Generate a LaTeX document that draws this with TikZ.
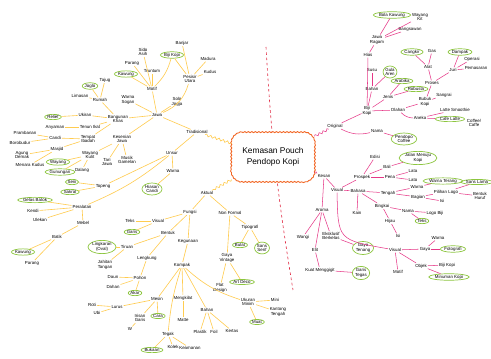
\documentclass[tikz,border=0pt]{standalone}
\usepackage{fontspec}
\setmainfont{Liberation Sans}
\usetikzlibrary{shapes.geometric,decorations.pathmorphing}
\definecolor{lime}{RGB}{141,198,63}
\definecolor{mustard}{RGB}{255,204,80}
\definecolor{rose}{RGB}{230,55,135}
\definecolor{rust}{RGB}{242,101,34}
\definecolor{divred}{RGB}{225,45,70}

\begin{document}
\begin{tikzpicture}[x=0.04cm,y=-0.04cm,
    txt/.style={font=\fontsize{5}{5.4}\selectfont,align=center,inner sep=1pt},
    oval/.style={txt,draw=lime,line width=0.8pt,ellipse,inner sep=0.3pt},
    yl/.style={draw=mustard,line width=0.7pt},
    pk/.style={draw=rose,line width=0.6pt},
    wave/.style={decorate,decoration={snake,amplitude=1.3pt,segment length=5pt}}]
  \fill[white] (0,0) rectangle (491,359);
  \useasboundingbox (0,0) rectangle (491,359);

  % divider
  \coordinate (dtop) at (266,47);
  \coordinate (dbot) at (293,290);
  \draw[divred,dashed,line width=0.7pt] (dtop) to[bend right=3] (dbot);

  % centre
  \node[minimum width=3.3cm,minimum height=1.95cm] (c) at (273,157) {};
  \begin{scope}[x=1cm,y=1cm]
    \filldraw[fill=white,draw=rust,line width=1pt,decorate,decoration={bumps,segment length=8pt,amplitude=1.2pt}]
      (9.72,-5.305) -- (12.12,-5.305) arc[start angle=90,end angle=0,radius=0.45]
      -- (12.57,-6.805) arc[start angle=0,end angle=-90,radius=0.45]
      -- (9.72,-7.255) arc[start angle=-90,end angle=-180,radius=0.45]
      -- (9.27,-5.755) arc[start angle=180,end angle=90,radius=0.45] -- cycle;
  \end{scope}
  \node[font=\fontsize{9.5}{12.5}\selectfont,align=center] (ctext) at (c) {Kemasan Pouch\\Pendopo Kopi};

  % tradisional
  \node[txt] (trad) at (197,132) {Tradisional};
  \node[txt] (jawa) at (157,115) {Jawa};
  \node[txt] (motif) at (152,89) {Motif};
  \node[oval] (kawa) at (126,74) {Kawung};
  \node[txt] (parang) at (132,63) {Parang};
  \node[txt] (trun) at (152,71) {Truntum};
  \node[txt] (sido) at (143,52) {Sido\\Asih};
  \node[oval] (bkopi) at (172,55) {Biji Kopi};
  \node[txt] (banjar) at (182,43) {Banjar};
  \node[txt] (madura) at (208,59) {Madura};
  \node[txt] (kudus) at (210,72) {Kudus};
  \node[txt] (pesisir) at (190,79) {Pesisir\\Utara};
  \node[txt] (solo) at (177,102) {Solo\\Jogja};
  \node[txt] (sogan) at (128,100) {Warna\\Sogan};
  \node[txt] (bangun) at (118,119) {Bangunan\\Khas};
  \node[txt] (rumah) at (100,100) {Rumah};
  \node[txt] (tajug) at (105,80) {Tajug};
  \node[oval] (joglo) at (90,86) {Joglo};
  \node[txt] (limas) at (80,96) {Limasan};
  \node[txt] (ukir) at (85,115) {Ukiran};
  \node[oval] (relief) at (53,117) {Relief};
  \node[txt] (tenun) at (90,127) {Tenun Ikat};
  \node[txt] (anyam) at (55,127) {Anyaman};
  \node[txt] (ibadah) at (88,139) {Tempat\\Ibadah};
  \node[txt] (candi) at (55,138) {Candi};
  \node[txt] (pramb) at (25,133) {Prambanan};
  \node[txt] (borob) at (20,143) {Borobudur};
  \node[txt] (masjid) at (57,149) {Masjid};
  \node[txt] (demak) at (22,155) {Agung\\Demak};
  \node[txt] (menara) at (30,165) {Menara Kudus};
  \node[txt] (seni) at (122,139) {Kesenian\\Jawa};
  \node[txt] (wkulit) at (90,155) {Wayang\\Kulit};
  \node[oval] (wayang) at (58,162) {Wayang};
  \node[oval] (gunung) at (60,172) {Gunungan};
  \node[txt] (dalang) at (82,170) {Dalang};
  \node[txt] (tari) at (107,162) {Tari\\Jawa};
  \node[txt] (gamelan) at (127,160) {Musik\\Gamelan};
  \node[txt] (unsur) at (172,153) {Unsur};
  \node[txt] (warna) at (173,171) {Warna};
  \node[oval] (hiasan) at (152,189) {Hiasan\\Candi};
  \node[txt] (topeng) at (103,186) {Topeng};
  \node[oval] (senii) at (72,182) {Seni};
  \node[oval] (sakral) at (70,192) {Sakral};
  \node[txt] (alat) at (82,207) {Peralatan};
  \node[oval] (batok) at (35,200) {Gelas Batok};
  \node[txt] (kendi) at (33,211) {Kendi};
  \node[txt] (ulek) at (40,220) {Ulekan};
  \node[txt] (mebel) at (83,223) {Mebel};
  \node[txt] (batik) at (57,237) {Batik};
  \node[oval] (kawb) at (23,252) {Kawung};
  \node[txt] (parb) at (32,263) {Parang};

  % aktual
  \node[txt] (aktual) at (207,193) {Aktual};
  \node[txt] (fungsi) at (190,212) {Fungsi};
  \node[txt] (nonf) at (230,213) {Non Formal};
  \node[txt] (tipo) at (250,227) {Tipografi};
  \node[oval] (bulat) at (240,245) {Bulat};
  \node[oval] (sans) at (262,248) {Sans\\Serif};
  \node[txt] (vint) at (227,258) {Gaya\\Vintage};
  \node[oval] (deco) at (242,282) {Art Deco};
  \node[txt] (flat) at (220,288) {Flat\\Design};
  \node[txt] (vis) at (158,221) {Visual};
  \node[txt] (teks) at (130,221) {Teks};
  \node[oval] (garis) at (132,232) {Garis};
  \node[txt] (bentuk) at (168,233) {Bentuk};
  \node[txt] (guna) at (188,241) {Kegunaan};
  \node[txt] (tiru) at (127,247) {Tiruan};
  \node[oval] (lingk) at (102,247) {Lingkaran\\(Oval)};
  \node[txt] (lengk) at (147,258) {Lengkung};
  \node[txt] (jahit) at (105,265) {Jahitan\\Tangan};
  \node[txt] (kompak) at (182,265) {Kompak};
  \node[txt] (pohon) at (140,278) {Pohon};
  \node[txt] (daun) at (113,277) {Daun};
  \node[txt] (dahan) at (113,287) {Dahan};
  \node[oval] (akar) at (135,293) {Akar};
  \node[txt] (mesin) at (157,299) {Mesin};
  \node[txt] (kilat) at (183,298) {Mengkilat};
  \node[txt] (matte) at (183,320) {Matte};
  \node[txt] (roti) at (92,305) {Roti};
  \node[txt] (ubi) at (97,313) {Ubi};
  \node[txt] (lurus) at (117,307) {Lurus};
  \node[txt] (irisan) at (140,318) {Irisan\\Garis};
  \node[oval] (cara) at (158,316) {Cara};
  \node[txt] (w) at (130,329) {W};
  \node[txt] (tegak) at (168,334) {Tegak};
  \node[oval] (bukaan) at (152,350) {Bukaan};
  \node[txt] (kolek) at (173,347) {Kolek};
  \node[txt] (aman) at (190,348) {Keamanan};
  \node[txt] (bahan) at (207,310) {Bahan};
  \node[txt] (plastik) at (200,332) {Plastik};
  \node[txt] (foil) at (214,332) {Foil};
  \node[txt] (kertas) at (232,331) {Kertas};
  \node[txt] (ukuran) at (248,302) {Ukuran\\Minim};
  \node[txt] (mini) at (275,300) {Mini};
  \node[txt] (kantong) at (278,312) {Kantong\\Tengah};
  \node[oval] (muat) at (257,322) {Muat};

  % original
  \node[txt] (orig) at (335,126) {Original};
  \node[txt] (biji) at (367,111) {Biji\\Kopi};
  \node[txt] (nama) at (377,131) {Nama};
  \node[oval] (pendopo) at (404,139) {Pendopo\\Coffee};
  \node[txt] (hias) at (368,55) {Hias};
  \node[txt] (ragam) at (377,40) {Jawa\\Ragam};
  \node[oval] (bola) at (392,15) {Bola Kawung};
  \node[txt] (wayk) at (420,17) {Wayang\\Kit};
  \node[txt] (bangsa) at (410,29) {Bangsawan};
  \node[txt] (bahanr) at (372,89) {Bahan};
  \node[txt] (susu) at (372,70) {Susu};
  \node[oval] (aren) at (390,72) {Gula\\Aren};
  \node[txt] (jenis) at (388,97) {Jenis};
  \node[oval] (arab) at (402,81) {Arabika};
  \node[oval] (robus) at (416,89) {Robusta};
  \node[txt] (olah) at (398,110) {Olahan};
  \node[txt] (bubuk) at (425,102) {Bubuk\\Kopi};
  \node[txt] (sangrai) at (444,95) {Sangrai};
  \node[txt] (proses) at (432,83) {Proses};
  \node[txt] (alatr) at (428,67) {Alat};
  \node[oval] (cangkir) at (412,52) {Cangkir};
  \node[txt] (gas) at (432,51) {Gas};
  \node[txt] (juri) at (453,70) {Juri};
  \node[oval] (dampak) at (460,52) {Dampak};
  \node[txt] (operasi) at (472,59) {Operasi};
  \node[txt] (pasar) at (476,68) {Pemasaran};
  \node[txt] (aneka) at (420,118) {Aneka};
  \node[txt] (latte) at (455,110) {Latte Smoothie};
  \node[oval] (cafe) at (450,119) {Cafe Latte};
  \node[txt] (coffee) at (474,123) {Coffee/\\Caffe};

  % kesan
  \node[txt] (kesan) at (324,176) {Kesan};
  \node[txt] (visr) at (337,190) {Visual};
  \node[txt] (prospek) at (362,177) {Prospek};
  \node[txt] (edisi) at (375,157) {Edisi};
  \node[txt] (bali) at (387,167) {Bali};
  \node[oval] (jalan) at (418,158) {Jalan Menuju\\Kopi};
  \node[txt] (pena) at (390,177) {Pena};
  \node[txt] (lata) at (413,171) {Lata};
  \node[txt] (lato) at (413,180) {Lato};
  \node[txt] (bahasa) at (358,191) {Bahasa};
  \node[txt] (tengah) at (388,193) {Tengah};
  \node[txt] (warnar) at (417,187) {Warna};
  \node[oval] (terang) at (443,181) {Warna Terang};
  \node[txt] (bagian) at (418,197) {Bagian};
  \node[txt] (logo) at (446,192) {Pilihan Logo};
  \node[oval] (sansl) at (477,182) {Sans Lama};
  \node[txt] (bhuruf) at (480,196) {Bentuk\\Huruf};
  \node[txt] (isi) at (442,201) {Isi};
  \node[txt] (bingkai) at (382,206) {Bingkai};
  \node[txt] (namar) at (408,211) {Nama};
  \node[txt] (logob) at (435,213) {Logo Biji};
  \node[oval] (teksr) at (422,221) {Teks};
  \node[txt] (hijau) at (390,221) {Hijau};
  \node[txt] (isib) at (398,236) {Isi};
  \node[txt] (kain) at (357,213) {Kain};
  \node[txt] (aroma) at (322,210) {Aroma};
  \node[txt] (wangi) at (303,237) {Wangi};
  \node[txt] (eksk) at (331,236) {Eksklusif\\Berkelas};
  \node[oval] (tenang) at (363,248) {Gaya\\Tenang};
  \node[txt] (elit) at (315,250) {Elit};
  \node[txt] (kuat) at (320,270) {Kuat Menggigit};
  \node[oval] (tegas) at (361,273) {Garis\\Tegas};
  \node[txt] (visb) at (395,250) {Visual};
  \node[txt] (gaya) at (425,249) {Gaya};
  \node[oval] (foto) at (453,249) {Fotografi};
  \node[txt] (warnab) at (438,238) {Warna};
  \node[txt] (motifr) at (398,272) {Motif};
  \node[txt] (objek) at (421,266) {Objek};
  \node[txt] (bkr) at (447,265) {Biji Kopi};
  \node[oval] (minum) at (449,277) {Minuman Kopi};

  % yellow branches
  \draw[yl,wave] (trad) -- (c);
  \draw[yl,wave] (c) -- (aktual);
  \draw[yl] (trad) -- (jawa);
  \draw[yl] (jawa) -- (motif); \draw[yl] (jawa) to[bend right=25] (pesisir);
  \draw[yl] (jawa) -- (solo); \draw[yl] (jawa) -- (sogan);
  \draw[yl] (jawa) -- (bangun); \draw[yl] (jawa) -- (seni);
  \draw[yl] (motif) -- (kawa); \draw[yl] (motif) -- (parang);
  \draw[yl] (motif) -- (trun); \draw[yl] (motif) -- (sido);
  \draw[yl] (motif) to[bend right=15] (bkopi);
  \draw[yl] (pesisir) -- (bkopi); \draw[yl] (pesisir) -- (banjar);
  \draw[yl] (pesisir) -- (madura); \draw[yl] (pesisir) -- (kudus);
  \draw[yl] (bangun) -- (rumah); \draw[yl] (bangun) -- (ukir);
  \draw[yl] (bangun) -- (tenun); \draw[yl] (bangun) -- (ibadah);
  \draw[yl] (rumah) -- (tajug); \draw[yl] (rumah) -- (joglo); \draw[yl] (rumah) -- (limas);
  \draw[yl] (ukir) -- (relief); \draw[yl] (tenun) -- (anyam);
  \draw[yl] (ibadah) -- (candi); \draw[yl] (ibadah) -- (masjid);
  \draw[yl] (candi) -- (pramb); \draw[yl] (candi) -- (borob);
  \draw[yl] (masjid) -- (demak); \draw[yl] (masjid) -- (menara);
  \draw[yl] (seni) -- (wkulit); \draw[yl] (seni) -- (tari); \draw[yl] (seni) -- (gamelan);
  \draw[yl] (wkulit) -- (wayang); \draw[yl] (wkulit) -- (gunung); \draw[yl] (wkulit) -- (dalang);
  \draw[yl] (trad) -- (unsur); \draw[yl] (unsur) -- (warna); \draw[yl] (warna) -- (hiasan);
  \draw[yl] (unsur) -- (topeng); \draw[yl] (topeng) -- (senii); \draw[yl] (topeng) -- (sakral);
  \draw[yl] (unsur) to[bend left=8] (alat);
  \draw[yl] (alat) -- (batok); \draw[yl] (alat) -- (kendi); \draw[yl] (alat) -- (ulek);
  \draw[yl] (alat) -- (mebel); \draw[yl] (mebel) -- (batik);
  \draw[yl] (batik) -- (kawb); \draw[yl] (batik) -- (parb);
  \draw[yl] (aktual) -- (fungsi); \draw[yl] (aktual) -- (nonf);
  \draw[yl] (nonf) -- (tipo); \draw[yl] (tipo) -- (bulat); \draw[yl] (tipo) -- (sans);
  \draw[yl] (nonf) -- (vint); \draw[yl] (vint) -- (deco); \draw[yl] (vint) -- (flat);
  \draw[yl] (fungsi) -- (vis); \draw[yl] (vis) -- (teks); \draw[yl] (vis) -- (garis);
  \draw[yl] (fungsi) -- (bentuk); \draw[yl] (bentuk) -- (tiru);
  \draw[yl] (tiru) -- (lingk); \draw[yl] (tiru) -- (jahit);
  \draw[yl] (bentuk) -- (lengk); \draw[yl] (lengk) -- (pohon);
  \draw[yl] (pohon) -- (daun); \draw[yl] (pohon) -- (dahan); \draw[yl] (pohon) -- (akar);
  \draw[yl] (fungsi) -- (guna); \draw[yl] (guna) -- (kompak);
  \draw[yl] (kompak) -- (mesin); \draw[yl] (kompak) -- (kilat); \draw[yl] (kilat) -- (matte);
  \draw[yl] (kompak) -- (bahan);
  \draw[yl] (bahan) -- (plastik); \draw[yl] (bahan) -- (foil); \draw[yl] (bahan) -- (kertas);
  \draw[yl] (kompak) to[bend right=12] (ukuran);
  \draw[yl] (ukuran) -- (mini); \draw[yl] (ukuran) -- (kantong); \draw[yl] (ukuran) -- (muat);
  \draw[yl] (kompak) to[bend right=6] (tegak);
  \draw[yl] (tegak) -- (bukaan); \draw[yl] (tegak) -- (kolek); \draw[yl] (tegak) -- (aman);
  \draw[yl] (mesin) -- (lurus); \draw[yl] (mesin) -- (irisan); \draw[yl] (mesin) -- (cara);
  \draw[yl] (lurus) -- (roti); \draw[yl] (lurus) -- (ubi); \draw[yl] (irisan) -- (w);

  % pink branches
  \draw[pk,wave] (c) -- (orig);
  \draw[pk,wave] (c) -- (kesan);
  \draw[pk] (orig) -- (biji); \draw[pk] (orig) to[bend right=20] (nama); \draw[pk] (nama) -- (pendopo);
  \draw[pk] (biji) -- (hias); \draw[pk] (hias) -- (ragam);
  \draw[pk] (ragam) -- (bola); \draw[pk] (ragam) -- (wayk); \draw[pk] (ragam) -- (bangsa);
  \draw[pk] (biji) -- (bahanr); \draw[pk] (bahanr) -- (susu); \draw[pk] (bahanr) -- (aren);
  \draw[pk] (biji) -- (jenis); \draw[pk] (jenis) -- (arab); \draw[pk] (jenis) -- (robus);
  \draw[pk] (biji) -- (olah); \draw[pk] (olah) -- (bubuk);
  \draw[pk] (bubuk) -- (sangrai); \draw[pk] (bubuk) -- (proses);
  \draw[pk] (proses) -- (alatr); \draw[pk] (alatr) -- (cangkir); \draw[pk] (alatr) -- (gas);
  \draw[pk] (proses) -- (juri); \draw[pk] (juri) -- (dampak);
  \draw[pk] (juri) -- (operasi); \draw[pk] (juri) -- (pasar);
  \draw[pk] (olah) to[bend right=20] (aneka);
  \draw[pk] (aneka) -- (latte); \draw[pk] (aneka) -- (cafe);
  \draw[pk] (kesan) -- (visr); \draw[pk] (kesan) -- (aroma);
  \draw[pk] (visr) -- (prospek); \draw[pk] (prospek) -- (edisi); \draw[pk] (prospek) -- (bali);
  \draw[pk] (bali) -- (jalan); \draw[pk] (prospek) -- (pena);
  \draw[pk] (pena) -- (lata); \draw[pk] (pena) -- (lato);
  \draw[pk] (visr) -- (bahasa); \draw[pk] (bahasa) -- (tengah);
  \draw[pk] (tengah) -- (warnar); \draw[pk] (warnar) -- (terang);
  \draw[pk] (tengah) -- (bagian); \draw[pk] (bagian) -- (logo);
  \draw[pk] (logo) -- (sansl); \draw[pk] (logo) -- (bhuruf); \draw[pk] (bagian) -- (isi);
  \draw[pk] (bahasa) -- (bingkai); \draw[pk] (bingkai) -- (namar);
  \draw[pk] (namar) -- (logob); \draw[pk] (namar) -- (teksr);
  \draw[pk] (bingkai) -- (hijau); \draw[pk] (hijau) -- (isib); \draw[pk] (bahasa) -- (kain);
  \draw[pk] (visr) .. controls (338,240) .. (visb);
  \draw[pk] (visb) -- (gaya); \draw[pk] (gaya) -- (foto); \draw[pk] (gaya) -- (warnab);
  \draw[pk] (visb) -- (motifr); \draw[pk] (visb) -- (objek);
  \draw[pk] (objek) -- (bkr); \draw[pk] (objek) -- (minum);
  \draw[pk] (aroma) -- (wangi); \draw[pk] (aroma) -- (eksk); \draw[pk] (aroma) -- (elit);
  \draw[pk] (eksk) -- (tenang); \draw[pk] (elit) -- (kuat); \draw[pk] (kuat) -- (tegas);
\end{tikzpicture}
\end{document}
